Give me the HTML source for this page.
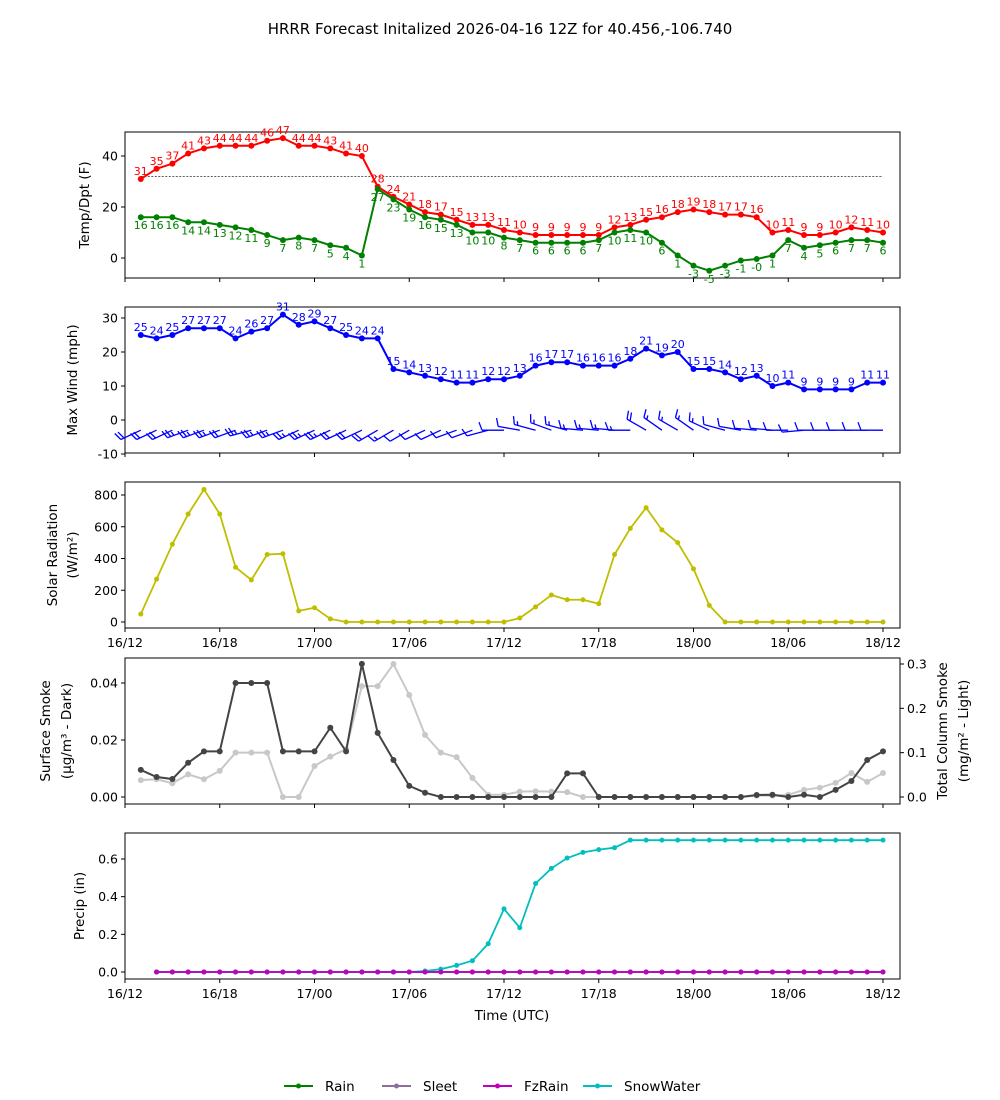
<!DOCTYPE html>
<html><head><meta charset="utf-8">
<style>
body{margin:0;background:#fff;}
svg{display:block;font-family:"DejaVu Sans","Liberation Sans",sans-serif;}
</style></head>
<body>
<svg id="chart" width="1000" height="1100" viewBox="0 0 1000 1100">
<text x="500" y="34" text-anchor="middle" font-size="15">HRRR Forecast Initalized 2026-04-16 12Z for 40.456,-106.740</text>
<g id="layer"></g>
</svg>
<script>
// ---- data (hourly from 16/13 to 18/12) ----
const temps = [31,35,37,41,43,44,44,44,46,47,44,44,43,41,40,28,24,21,18,17,15,13,13,11,10,9,9,9,9,9,12,13,15,16,18,19,18,17,17,16,10,11,9,9,10,12,11,10];
const dewpts = [16,16,16,14,14,13,12,11,9,7,8,7,5,4,1,27,23,19,16,15,13,10,10,8,7,6,6,6,6,7,10,11,10,6,1,-3,-5,-3,-1,-0.4,1,7,4,5,6,7,7,6];
const dewLabels = ["16","16","16","14","14","13","12","11","9","7","8","7","5","4","1","27","23","19","16","15","13","10","10","8","7","6","6","6","6","7","10","11","10","6","1","-3","-5","-3","-1","-0","1","7","4","5","6","7","7","6"];
const winds = [25,24,25,27,27,27,24,26,27,31,28,29,27,25,24,24,15,14,13,12,11,11,12,12,13,16,17,17,16,16,16,18,21,19,20,15,15,14,12,13,10,11,9,9,9,9,11,11];
const windDirs = [245,245,245,250,250,250,250,255,250,250,245,245,245,245,245,240,240,240,245,245,250,250,255,270,280,285,290,285,275,275,275,270,300,305,300,305,295,285,280,275,275,270,265,270,270,270,270,270];
const solar = [50,270,490,680,835,680,345,265,425,430,70,90,20,0,0,0,0,0,0,0,0,0,0,0,25,95,170,140,140,115,425,590,720,580,500,335,105,0,0,0,0,0,0,0,0,0,0,0];
const smokeDark = [0.0095,0.007,0.0063,0.012,0.016,0.016,0.040,0.040,0.040,0.016,0.016,0.016,0.0243,0.016,0.0467,0.0225,0.013,0.0039,0.0015,0,0,0,0,0,0,0,0,0.0083,0.0083,0,0,0,0,0,0,0,0,0,0,0.0007,0.0008,0,0.0008,0,0.0025,0.0056,0.013,0.016];
const smokeLight = [0.038,0.040,0.031,0.051,0.040,0.059,0.10,0.10,0.10,0,0,0.07,0.091,0.108,0.25,0.25,0.30,0.23,0.14,0.10,0.09,0.043,0.005,0.005,0.012,0.013,0.012,0.011,0,0,0,0,0,0,0,0,0,0,0,0.003,0.003,0.005,0.016,0.021,0.032,0.054,0.034,0.054];
const rain = [0,0,0,0,0,0,0,0,0,0,0,0,0,0,0,0,0,0,0,0,0,0,0,0,0,0,0,0,0,0,0,0,0,0,0,0,0,0,0,0,0,0,0,0,0,0,0];
const sleet = rain.slice();
const fzrain = rain.slice();
const snow = [0,0,0,0,0,0,0,0,0,0,0,0,0,0,0,0,0,0.005,0.015,0.035,0.06,0.15,0.335,0.235,0.47,0.55,0.605,0.635,0.65,0.66,0.70,0.70,0.70,0.70,0.70,0.70,0.70,0.70,0.70,0.70,0.70,0.70,0.70,0.70,0.70,0.70,0.70];
const xTickLabels = ["16/12","16/18","17/00","17/06","17/12","17/18","18/00","18/06","18/12"];

// ---- layout ----
const NS="http://www.w3.org/2000/svg";
const L=document.getElementById('layer');
const X0=125,X1=900;
const xh=h=>125+h*(883-125)/48;
function el(t,a,parent){const e=document.createElementNS(NS,t);for(const k in a)e.setAttribute(k,a[k]);(parent||L).appendChild(e);return e;}
function txt(x,y,s,a,parent){const e=el('text',Object.assign({x:x,y:y},a),parent);e.textContent=s;return e;}
function lin(d0,v0,d1,v1){return v=>v0+(v-d0)*(v1-v0)/(d1-d0);}

const panels=[
 {name:'temp-panel',top:132,bot:278,y:lin(0,258,40,156),ticks:[0,20,40],fmt:v=>v},
 {name:'wind-panel',top:307,bot:453,y:lin(0,420,30,318),ticks:[-10,0,10,20,30],fmt:v=>v},
 {name:'solar-panel',top:482,bot:628,y:lin(0,622,800,495),ticks:[0,200,400,600,800],fmt:v=>v},
 {name:'smoke-panel',top:658,bot:804,y:lin(0,797,0.04,683),ticks:[0,0.02,0.04],fmt:v=>v.toFixed(2)},
 {name:'precip-panel',top:833,bot:979,y:lin(0,972,0.6,859),ticks:[0,0.2,0.4,0.6],fmt:v=>v.toFixed(1)}
];
const yRight=lin(0,797,0.3,664);

panels.forEach((p,pi)=>{
  const g=el('g',{});
  
  
  const r=el('rect',{x:X0,y:p.top,width:X1-X0,height:p.bot-p.top,fill:'none',stroke:'#000','stroke-width':1},g);
  
  
  p.ticks.forEach(t=>{
    const yy=p.y(t);
    el('line',{x1:X0-4,x2:X0,y1:yy,y2:yy,stroke:'#000'},g);
    const tl=txt(X0-7,yy+4.5,p.fmt(t),{'text-anchor':'end','font-size':12.5},g);
    
    
  });
  xTickLabels.forEach((lab,i)=>{
    const xx=xh(i*6);
    el('line',{x1:xx,x2:xx,y1:p.bot,y2:p.bot+4,stroke:'#000'},g);
    if(pi===2||pi===4){
      const tl=txt(xx,p.bot+19,lab,{'text-anchor':'middle','font-size':12.5},g);
      
      
    }
  });
});
[0,0.1,0.2,0.3].forEach(t=>{
  const yy=yRight(t);
  el('line',{x1:X1,x2:X1+4,y1:yy,y2:yy,stroke:'#000'});
  const tl=txt(X1+7,yy+4.5,t.toFixed(1),{'font-size':12.5});
  
  
});

function series(vals,yf,color,name,startH,r,w){
  const pts=vals.map((v,i)=>[xh(i+startH),yf(v)]);
  const pl=el('polyline',{points:pts.map(p=>p.join(',')).join(' '),fill:'none',stroke:color,'stroke-width':w||2});
  
  
  pts.forEach(p=>{
    const c=el('circle',{cx:p[0],cy:p[1],r:r||3,fill:color});
    
    
  });
  return pts;
}
const P1=panels[0];
el('line',{x1:xh(1),x2:xh(48),y1:P1.y(32),y2:P1.y(32),stroke:'#000','stroke-width':0.6,'stroke-dasharray':'2,1.5'});
const tp=series(temps,P1.y,'#ff0000','temperature',1);
const dp=series(dewpts,P1.y,'#008000','dewpoint',1);
tp.forEach((p,i)=>{const t=txt(p[0],p[1]-4,String(temps[i]),{'text-anchor':'middle','font-size':11,fill:'#ff0000'});});
dp.forEach((p,i)=>{const t=txt(p[0],p[1]+12,dewLabels[i],{'text-anchor':'middle','font-size':11,fill:'#008000'});});
const P2=panels[1];
const wp=series(winds,P2.y,'#0000ff','max-wind',1);
wp.forEach((p,i)=>{const t=txt(p[0],p[1]-4,String(winds[i]),{'text-anchor':'middle','font-size':11,fill:'#0000ff'});});
windDirs.forEach((d,i)=>{
  const x=xh(i+1),y=P2.y(-3),rad=d*Math.PI/180,Ls=22;
  const sx=Math.sin(rad),sy=-Math.cos(rad);
  const ex=x+Ls*sx,ey=y+Ls*sy;
  const bx=-sy,by=sx;
  let kt=winds[i]*0.87;
  const g=el('g',{stroke:'#0000ff','stroke-width':1.3,fill:'none'});
  
  
  el('line',{x1:x,y1:y,x2:ex,y2:ey},g);
  let pos=0;
  while(kt>=7.5){const px=ex-sx*pos*3.5,py=ey-sy*pos*3.5;el('line',{x1:px,y1:py,x2:px+bx*8+sx*3,y2:py+by*8+sy*3},g);kt-=10;pos++;}
  if(kt>=2.5){if(pos===0)pos=1;const px=ex-sx*pos*3.5,py=ey-sy*pos*3.5;el('line',{x1:px,y1:py,x2:px+bx*4+sx*1.5,y2:py+by*4+sy*1.5},g);}
});
series(solar,panels[2].y,'#bfbf00','solar',1,2.5,1.8);
series(smokeLight,yRight,'#c8c8c8','column-smoke',1,3,2);
series(smokeDark,panels[3].y,'#444444','surface-smoke',1,3,2);
const P5=panels[4];
series(rain,P5.y,'#008000','rain',2,2.5,1.8);
series(sleet,P5.y,'#8e6e9a','sleet',2,2.5,1.8);
series(snow,P5.y,'#00bfbf','snowwater',2,2.5,1.8);
series(fzrain,P5.y,'#bf00bf','fzrain',2,2.5,1.8);

function rot(x,y,s,name){const t=txt(x,y,s,{'text-anchor':'middle','font-size':13.5,transform:`rotate(-90 ${x} ${y})`});return t;}
rot(89,205,'Temp/Dpt (F)','temp-axis-title');
rot(77,380,'Max Wind (mph)','wind-axis-title');
rot(57,555,'Solar Radiation','solar-axis-title');
rot(77,555,'(W/m²)','solar-axis-units');
rot(50,731,'Surface Smoke','smoke-axis-title');
rot(71,731,'(μg/m³ - Dark)','smoke-axis-units');
const r1=txt(947,731,'Total Column Smoke',{'text-anchor':'middle','font-size':13.5,transform:'rotate(-90 947 731)'});


const r2=txt(968,731,'(mg/m² - Light)',{'text-anchor':'middle','font-size':13.5,transform:'rotate(-90 968 731)'});


rot(84,906,'Precip (in)','precip-axis-title');
const xt=txt(512,1020,'Time (UTC)',{'text-anchor':'middle','font-size':13.5});



const legendNames=['Rain','Sleet','FzRain','SnowWater'];
const legendColors=['#008000','#8e6e9a','#bf00bf','#00bfbf'];
const legendX=[284,382,483,583];
legendNames.forEach((n,i)=>{
  const g=el('g',{});
  
  
  el('line',{x1:legendX[i],x2:legendX[i]+29,y1:1086,y2:1086,stroke:legendColors[i],'stroke-width':2},g);
  el('circle',{cx:legendX[i]+14.5,cy:1086,r:2.5,fill:legendColors[i]},g);
  txt(legendX[i]+41,1091,n,{'font-size':13.5},g);
});
</script>
</body></html>
